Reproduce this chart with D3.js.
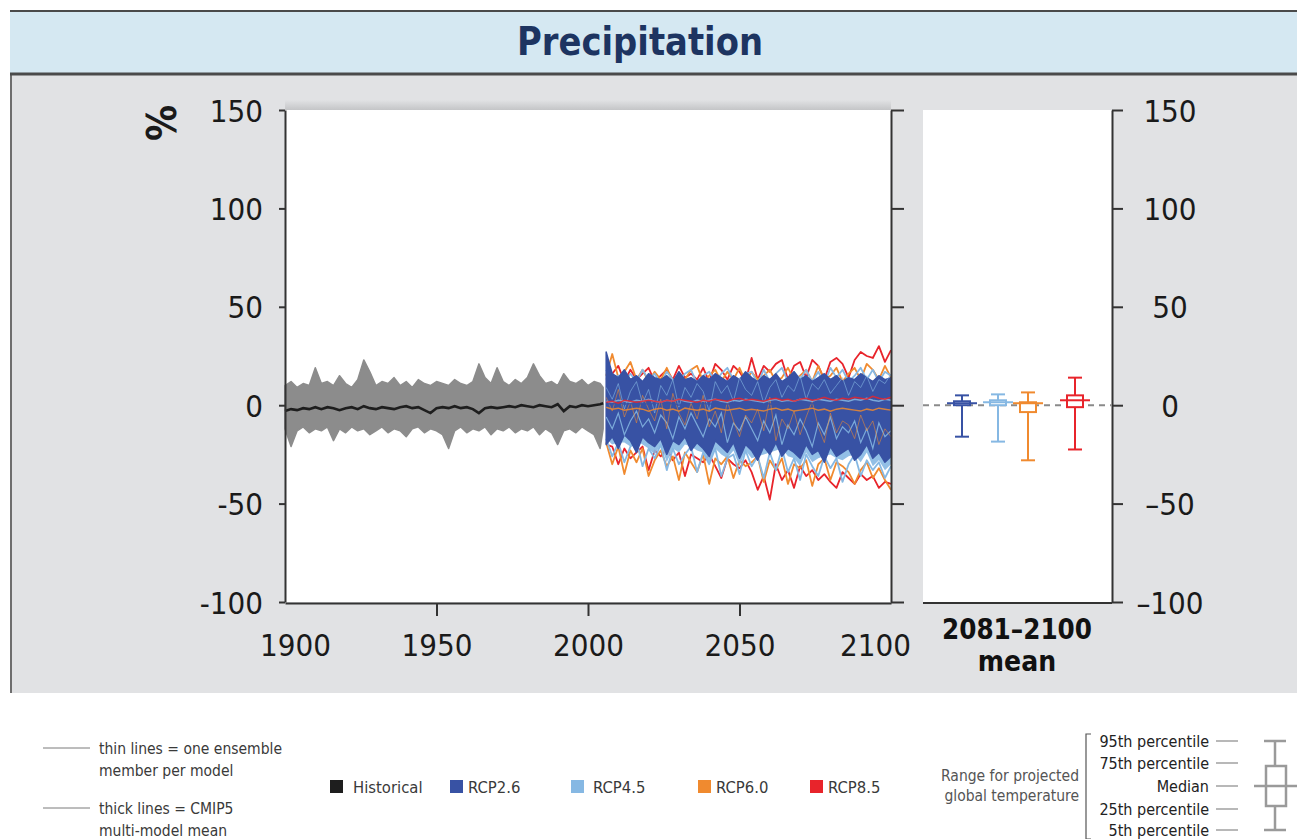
<!DOCTYPE html>
<html>
<head>
<meta charset="utf-8">
<script src="https://cdn.jsdelivr.net/npm/d3@7.9.0/dist/d3.min.js"></script>
<style>
  body { margin: 0; background: #fff; }
  svg { display: block; font-family: 'DejaVu Sans Condensed', 'Liberation Sans Narrow', sans-serif; }
</style>
</head>
<body>
<svg id="chart" width="1297" height="839"></svg>
<script>
// ---- data (% change) ----
const histYears = d3.range(1900, 2005, 2).concat([2005]);
const histUpper = [10, 12, 9, 11, 10, 19, 11, 12, 10, 15, 11, 9, 13, 23, 17, 10, 12, 11, 14, 10,
  12, 9, 13, 11, 10, 12, 11, 10, 13, 11, 10, 12, 21, 14, 11, 19, 12, 10, 13, 11,
  14, 21, 15, 11, 12, 10, 16, 12, 11, 13, 10, 12, 11, 9];
const histLower = [-12, -21, -13, -11, -14, -12, -13, -11, -18, -12, -14, -11, -13, -12, -15, -13, -11, -14, -12, -13,
  -16, -12, -11, -14, -12, -13, -15, -22, -13, -11, -14, -12, -13, -11, -15, -12, -13, -11, -14, -12,
  -13, -11, -15, -12, -14, -20, -13, -12, -14, -11, -13, -15, -22, -12];
const histMean = [-3, -2, -2.5, -1.5, -2, -1, -2, -1, -1.5, -2.5, -1.5, -1, -2, -0.5, -1.5, -2, -1, -1.5, -2, -1,
  -0.5, -1.5, -1, -2.5, -4, -1.5, -1, -1.5, -0.5, -1.5, -1, -2, -4, -1.5, -1, -1.5, -1, -0.5, -1, 0,
  -0.5, -1, 0, -0.5, -1, 0.5, -3, -0.5, -1, 0, -0.5, 0, 0.5, 1];

const futYears = d3.range(2006, 2101, 2);
const rcp26Hi = [27, 16, 14, 18, 13, 15, 12, 16, 14, 13, 15, 12, 17, 13, 14, 12, 15, 13, 16, 14, 12, 15, 13, 17,
  14, 12, 15, 13, 16, 12, 14, 17, 13, 15, 12, 14, 16, 13, 15, 12, 14, 13, 16, 14, 12, 15, 13, 14];
const rcp26Lo = [-20, -16, -22, -15, -18, -24, -16, -19, -21, -17, -25, -18, -20, -16, -23, -19, -22, -26, -18, -21, -24, -19, -27, -20,
  -23, -28, -21, -25, -19, -26, -22, -24, -27, -20, -25, -23, -29, -21, -26, -24, -22, -28, -25, -20, -27, -24, -29, -26];
const rcp45Hi = [18, 13, 15, 12, 16, 12, 18, 13, 16, 11, 17, 13, 12, 16, 18, 11, 15, 17, 12, 16, 19, 13, 12, 16,
  17, 11, 18, 12, 16, 19, 12, 17, 13, 18, 12, 17, 11, 19, 14, 18, 12, 15, 19, 13, 18, 12, 17, 15];
const rcp45Lo = [-17, -26, -19, -29, -21, -18, -31, -22, -27, -20, -33, -22, -30, -25, -21, -34, -24, -30, -22, -36, -27, -25, -35, -23,
  -31, -26, -37, -24, -33, -22, -34, -27, -38, -25, -31, -36, -26, -32, -27, -39, -30, -25, -36, -28, -33, -29, -37, -31];
const rcp60Hi = [15, 26, 14, 17, 22, 13, 18, 12, 17, 13, 19, 12, 16, 13, 18, 20, 12, 15, 18, 12, 17, 13, 19, 12,
  17, 13, 15, 18, 12, 14, 19, 13, 15, 18, 12, 20, 13, 15, 19, 12, 16, 19, 13, 21, 18, 13, 20, 14];
const rcp60Lo = [-19, -30, -21, -35, -23, -29, -22, -36, -28, -23, -31, -26, -38, -24, -29, -34, -25, -40, -27, -30, -26, -37, -28, -31,
  -29, -26, -39, -28, -33, -27, -40, -30, -32, -28, -41, -30, -27, -38, -29, -31, -34, -40, -33, -29, -37, -32, -38, -43];
const rcp85Hi = [13, 16, 20, 12, 18, 13, 16, 19, 12, 15, 18, 13, 20, 14, 16, 13, 19, 12, 21, 18, 13, 20, 17, 12,
  24, 13, 20, 17, 21, 23, 13, 20, 22, 14, 23, 20, 13, 22, 24, 21, 14, 23, 27, 25, 24, 30, 22, 28];
const rcp85Lo = [-20, -21, -30, -22, -27, -24, -21, -33, -23, -26, -22, -28, -24, -36, -25, -27, -29, -25, -31, -37, -27, -30, -32, -28,
  -34, -43, -36, -48, -30, -38, -33, -42, -31, -36, -33, -38, -35, -39, -42, -34, -37, -40, -35, -38, -36, -42, -39, -40];

const rcp45Member = [-6, -12, -4, -15, -8, -3, -11, -7, -14, -5, -9, -17, -6, -12, -4, -10, -16, -7, -11, -4, -19, -9, -13, -6,
  -12, -18, -8, -14, -5, -20, -10, -15, -7, -13, -21, -9, -15, -6, -17, -11, -14, -8, -19, -12, -22, -9, -16, -13];
const rcp60Member = [4, -3, 8, -6, 2, -9, 5, -2, -8, 3, -12, 6, -4, -10, 1, -7, 5, -11, -3, -14, 2, -8, -16, -5,
  -9, -2, -13, 4, -18, -7, -12, -3, -15, -6, 2, -11, -19, -4, -14, -8, -10, -17, -5, -13, -8, -20, -12, -16];
const rcp85Member = [9, 3, 11, -2, 7, 12, 1, 8, -4, 10, 5, 13, -1, 9, 4, 11, 7, -3, 12, 6, 10, 2, 14, 8,
  5, 12, 1, 9, 13, 4, 10, 7, 15, 3, 11, 8, 13, 6, 10, 14, 5, 12, 9, 15, 7, 13, 11, 16];

const rcp26Mean = [1, 0.5, 1.5, 0.5, 1, 0, 1, 0.5, 1, 1.5, 0.5, 1, 0, 1, 1.5, 0.5, 1, 0.5, 1, 1.5, 0.5, 1, 0, 1,
  0.5, 1, 1.5, 0.5, 1, 0.5, 1, 1.5, 1, 0.5, 1, 0, 1, 1.5, 0.5, 1, 0.5, 1, 1.5, 1, 0.5, 1, 0.5, 1];
const rcp45Mean = [2, 1.5, 2.5, 2, 1.5, 2.5, 2, 3, 2, 1.5, 2.5, 2, 3, 2, 1.5, 2.5, 2, 2.5, 3, 2, 1.5, 2.5, 2, 3,
  2.5, 2, 1.5, 2.5, 3, 2, 2.5, 2, 3, 2.5, 2, 3, 2.5, 2, 3, 2.5, 2, 3, 2.5, 3.5, 2.5, 2, 3, 2.5];
const rcp60Mean = [-1, -2, -1.5, -2.5, -2, -1.5, -2, -3, -2, -1.5, -2.5, -2, -3, -1.5, -2, -2.5, -2, -3, -1.5, -2, -2.5, -2, -1.5, -2.5,
  -2, -2.5, -3, -2, -1.5, -2.5, -2, -3, -2.5, -2, -1.5, -2.5, -2, -3, -2, -1.5, -2, -2.5, -3, -2, -2.5, -1.5, -2, -2.5];
const rcp85Mean = [1.5, 2, 1, 2.5, 2, 1.5, 2, 2.5, 2, 1.5, 2.5, 2, 3, 2.5, 2, 1.5, 2.5, 2, 3, 2.5, 2, 3, 3.5, 2.5,
  3, 2.5, 2, 3, 3.5, 2.5, 3, 2, 3, 3.5, 2.5, 3, 4, 3, 2.5, 3.5, 3, 4, 3.5, 3, 4.5, 3.5, 3, 4];

// 2081–2100 mean box plots
const boxScenarios = ['RCP2.6', 'RCP4.5', 'RCP6.0', 'RCP8.5'];
const boxP5 = [-16, -18.5, -28, -22.5];
const boxP25 = [0, 0, -3.5, -1];
const boxMedian = [1, 1.5, 1, 2.5];
const boxP75 = [2, 2.5, 1.5, 5];
const boxP95 = [5, 5.5, 6.5, 14];

const legendItems = ['Historical', 'RCP2.6', 'RCP4.5', 'RCP6.0', 'RCP8.5'];
const percentileLabels = ['95th percentile', '75th percentile', 'Median', '25th percentile', '5th percentile'];
const yTicks = [-100, -50, 0, 50, 100, 150];
const xTicks = [1900, 1950, 2000, 2050, 2100];

const colors = {
  'Historical': '#1e1e1e',
  'RCP2.6': '#3852a4',
  'RCP4.5': '#86b8e3',
  'RCP6.0': '#f08a2f',
  'RCP8.5': '#e8242b',
};
const histGray = '#8c8c8c';

// ---- layout ----
const svg = d3.select('#chart');

svg.append('rect').attr('x', 10).attr('y', 74).attr('width', 1287).attr('height', 619).attr('fill', '#e1e2e4');
svg.append('line').attr('x1', 11).attr('x2', 11).attr('y1', 10).attr('y2', 693)
  .attr('stroke', '#6e6e6e').attr('stroke-width', 2);

// title bar
svg.append('rect').attr('x', 10).attr('y', 10).attr('width', 1287).attr('height', 64).attr('fill', '#d5e8f2');
svg.append('line').attr('x1', 10).attr('x2', 1297).attr('y1', 11).attr('y2', 11).attr('stroke', '#4a4a4a').attr('stroke-width', 2);
svg.append('line').attr('x1', 10).attr('x2', 1297).attr('y1', 74).attr('y2', 74).attr('stroke', '#4a4a4a').attr('stroke-width', 3);
svg.append('text').attr('x', 640).attr('y', 55).attr('text-anchor', 'middle')
  .attr('font-size', 39).attr('font-weight', 'bold').attr('fill', '#1d3461')
  .attr('textLength', 246).attr('lengthAdjust', 'spacingAndGlyphs').text('Precipitation');

const x = d3.scaleLinear().domain([1900, 2100]).range([285, 891]);
const y = d3.scaleLinear().domain([-100, 150]).range([602, 110]);

// soft shadow above plot
const defs = svg.append('defs');
const grad = defs.append('linearGradient').attr('id', 'shade').attr('x1', 0).attr('x2', 0).attr('y1', 0).attr('y2', 1);
grad.append('stop').attr('offset', '0%').attr('stop-color', '#e1e2e4');
grad.append('stop').attr('offset', '100%').attr('stop-color', '#c4c5c7');
svg.append('rect').attr('x', 285).attr('y', 100).attr('width', 606).attr('height', 10).attr('fill', 'url(#shade)');

svg.append('rect').attr('x', 285).attr('y', 110).attr('width', 606).attr('height', 492).attr('fill', '#fff');
svg.append('rect').attr('x', 923).attr('y', 110).attr('width', 189).attr('height', 492).attr('fill', '#fff');

const plot = svg.append('g');

function band(years, lo, hi) {
  return d3.area()
    .x((d, i) => x(years[i]))
    .y0((d, i) => y(lo[i]))
    .y1((d, i) => y(hi[i]))(years);
}
function line(years, vals) {
  return d3.line().x((d, i) => x(years[i])).y((d, i) => y(vals[i]))(years);
}

// historical ensemble
plot.append('path').attr('d', band(histYears, histLower, histUpper))
  .attr('fill', histGray).attr('stroke', histGray).attr('stroke-width', 1.5).attr('stroke-linejoin', 'round');

// projections: outer members as spiky lines, RCP2.6 core filled on top
const outer = [
  ['RCP8.5', rcp85Lo, rcp85Hi],
  ['RCP6.0', rcp60Lo, rcp60Hi],
  ['RCP4.5', rcp45Lo, rcp45Hi],
];
outer.forEach(([name, lo, hi]) => {
  [lo, hi].forEach(vals => {
    plot.append('path').attr('d', line(futYears, vals))
      .attr('fill', 'none').attr('stroke', colors[name]).attr('stroke-width', 1.8).attr('stroke-linejoin', 'round');
  });
});
// light blue body slightly wider than the blue core
plot.append('path').attr('d', band(futYears, rcp45Lo.map((v, i) => Math.max(v, rcp26Lo[i] - 4)), rcp26Hi))
  .attr('fill', colors['RCP4.5']).attr('opacity', 0.9);
plot.append('path').attr('d', band(futYears, rcp26Lo, rcp26Hi))
  .attr('fill', colors['RCP2.6']).attr('stroke', colors['RCP2.6']).attr('stroke-width', 1.5).attr('stroke-linejoin', 'round');

plot.append('path').attr('d', line(futYears, rcp45Member))
  .attr('fill', 'none').attr('stroke', colors['RCP4.5']).attr('stroke-width', 1.2).attr('opacity', 0.85);
plot.append('path').attr('d', line(futYears, rcp60Member))
  .attr('fill', 'none').attr('stroke', colors['RCP6.0']).attr('stroke-width', 1).attr('opacity', 0.55);
plot.append('path').attr('d', line(futYears, rcp85Member))
  .attr('fill', 'none').attr('stroke', colors['RCP4.5']).attr('stroke-width', 1).attr('opacity', 0.6);

// multi-model means
[['RCP2.6', rcp26Mean], ['RCP4.5', rcp45Mean], ['RCP6.0', rcp60Mean], ['RCP8.5', rcp85Mean]].forEach(([name, vals]) => {
  plot.append('path').attr('d', line(futYears, vals))
    .attr('fill', 'none').attr('stroke', colors[name]).attr('stroke-width', 1.5).attr('opacity', 0.85);
});
plot.append('path').attr('d', line(histYears, histMean))
  .attr('fill', 'none').attr('stroke', colors['Historical']).attr('stroke-width', 2.6);

// axes
const axisColor = '#333';
function styleAxis(g) {
  g.attr('font-family', null).attr('font-size', null);
  g.selectAll('.domain').attr('stroke', axisColor).attr('stroke-width', 2);
  g.selectAll('.tick line').attr('stroke', axisColor).attr('stroke-width', 2);
  g.selectAll('text').attr('fill', '#1a1a1a');
}

const leftAxis = svg.append('g').attr('transform', 'translate(285,0)')
  .call(d3.axisLeft(y).tickValues(yTicks).tickSize(6).tickSizeOuter(0).tickPadding(16).tickFormat(d => String(d)))
  .call(styleAxis);
leftAxis.selectAll('text').attr('font-size', 31).attr('dy', '0.36em');

const bottomAxis = svg.append('g').attr('transform', 'translate(0,603)')
  .call(d3.axisBottom(x).tickValues(xTicks).tickSize(13).tickSizeOuter(0).tickFormat(d3.format('d')))
  .call(styleAxis);
bottomAxis.selectAll('.tick').filter(d => d === 1900 || d === 2100).select('line').remove();
bottomAxis.selectAll('text').attr('font-size', 31).attr('y', 53).attr('dy', 0)
  .attr('dx', d => d === 1900 ? 10 : d === 2100 ? -16 : 0);

svg.append('g').attr('transform', 'translate(891,0)')
  .call(d3.axisRight(y).tickValues(yTicks).tickSize(13).tickSizeOuter(0).tickFormat(''))
  .call(styleAxis);

// right panel
const panelAxis = svg.append('g').attr('transform', 'translate(1112,0)')
  .call(d3.axisRight(y).tickValues(yTicks).tickSize(11).tickSizeOuter(0).tickPadding(47)
    .tickFormat(d => d < 0 ? '\u2013' + Math.abs(d) : String(d)))
  .call(styleAxis);
panelAxis.selectAll('text').attr('font-size', 31).attr('text-anchor', 'middle').attr('dy', '0.36em');
svg.append('line').attr('x1', 923).attr('x2', 1112).attr('y1', 603).attr('y2', 603)
  .attr('stroke', axisColor).attr('stroke-width', 2);

svg.append('line').attr('x1', 923).attr('x2', 1112).attr('y1', y(0)).attr('y2', y(0))
  .attr('stroke', '#8a8a8a').attr('stroke-width', 2).attr('stroke-dasharray', '6,5');

const bx = d3.scaleOrdinal().domain(boxScenarios).range([962, 998, 1028, 1075]);
const boxes = svg.append('g').selectAll('g').data(boxScenarios).join('g')
  .attr('stroke', d => colors[d]).attr('stroke-width', 2).attr('fill', 'none');
boxes.append('line').attr('x1', d => bx(d)).attr('x2', d => bx(d))
  .attr('y1', (d, i) => y(boxP95[i])).attr('y2', (d, i) => y(boxP5[i]));
boxes.append('line').attr('x1', d => bx(d) - 7).attr('x2', d => bx(d) + 7)
  .attr('y1', (d, i) => y(boxP95[i])).attr('y2', (d, i) => y(boxP95[i]));
boxes.append('line').attr('x1', d => bx(d) - 7).attr('x2', d => bx(d) + 7)
  .attr('y1', (d, i) => y(boxP5[i])).attr('y2', (d, i) => y(boxP5[i]));
boxes.append('rect').attr('x', d => bx(d) - 8).attr('width', 16)
  .attr('y', (d, i) => y(boxP75[i])).attr('height', (d, i) => y(boxP25[i]) - y(boxP75[i])).attr('fill', '#fff');
boxes.append('line').attr('x1', d => bx(d) - 15).attr('x2', d => bx(d) + 15)
  .attr('y1', (d, i) => y(boxMedian[i])).attr('y2', (d, i) => y(boxMedian[i]));

svg.append('text').attr('x', 1017).attr('y', 639).attr('text-anchor', 'middle')
  .attr('font-size', 28).attr('font-weight', 'bold').attr('fill', '#111')
  .attr('textLength', 150).attr('lengthAdjust', 'spacingAndGlyphs').text('2081\u20132100');
svg.append('text').attr('x', 1017).attr('y', 671).attr('text-anchor', 'middle')
  .attr('font-size', 28).attr('font-weight', 'bold').attr('fill', '#111').text('mean');

svg.append('text').attr('transform', 'translate(176,123) rotate(-90)').attr('text-anchor', 'middle')
  .attr('font-size', 40).attr('font-weight', 'bold').attr('fill', '#1a1a1a').text('%');

// ---- legend ----
const legend = svg.append('g').attr('font-size', 15.5).attr('fill', '#3a3a3a');
[[748, 'thin lines = one ensemble', 'member per model'], [808, 'thick lines = CMIP5', 'multi-model mean']]
  .forEach(([ly, a, b]) => {
    legend.append('line').attr('x1', 43).attr('x2', 90).attr('y1', ly).attr('y2', ly)
      .attr('stroke', '#7a7a7a').attr('stroke-width', 1);
    legend.append('text').attr('x', 99).attr('y', ly + 6).text(a);
    legend.append('text').attr('x', 99).attr('y', ly + 28).text(b);
  });

const legX = d3.scaleOrdinal().domain(legendItems).range([330, 450, 571, 698, 810]);
const sw = legend.selectAll('g.sw').data(legendItems).join('g').attr('class', 'sw')
  .attr('transform', d => `translate(${legX(d)},780)`);
sw.append('rect').attr('width', 13).attr('height', 13).attr('fill', d => colors[d]);
sw.append('text').attr('x', d => d === 'Historical' ? 23 : d === 'RCP4.5' ? 22 : 18).attr('y', 12.5)
  .attr('font-size', 16.5).text(d => d);

legend.append('text').attr('x', 1079).attr('y', 781).attr('text-anchor', 'end').attr('fill', '#555').text('Range for projected');
legend.append('text').attr('x', 1079).attr('y', 801).attr('text-anchor', 'end').attr('fill', '#555').text('global temperature');
legend.append('path').attr('d', 'M1091,734 H1086 V839 H1091').attr('fill', 'none').attr('stroke', '#555').attr('stroke-width', 1.2);

const pctY = [741, 763, 786, 809, 830];
percentileLabels.forEach((t, i) => {
  legend.append('text').attr('x', 1209).attr('y', pctY[i] + 6).attr('text-anchor', 'end')
    .attr('font-size', 16).attr('fill', '#222').text(t);
  legend.append('line').attr('x1', 1216).attr('x2', 1238).attr('y1', pctY[i]).attr('y2', pctY[i])
    .attr('stroke', '#888').attr('stroke-width', 1.2);
});
const g = legend.append('g').attr('stroke', '#9a9a9a').attr('stroke-width', 2.5).attr('fill', 'none');
g.append('line').attr('x1', 1275).attr('x2', 1275).attr('y1', pctY[0]).attr('y2', pctY[4]);
g.append('line').attr('x1', 1264).attr('x2', 1286).attr('y1', pctY[0]).attr('y2', pctY[0]);
g.append('line').attr('x1', 1264).attr('x2', 1286).attr('y1', pctY[4]).attr('y2', pctY[4]);
g.append('rect').attr('x', 1266).attr('y', pctY[1] + 3).attr('width', 20).attr('height', pctY[3] - pctY[1] - 6).attr('fill', '#fff');
g.append('line').attr('x1', 1254).attr('x2', 1297).attr('y1', pctY[2]).attr('y2', pctY[2]);
</script>
</body>
</html>
